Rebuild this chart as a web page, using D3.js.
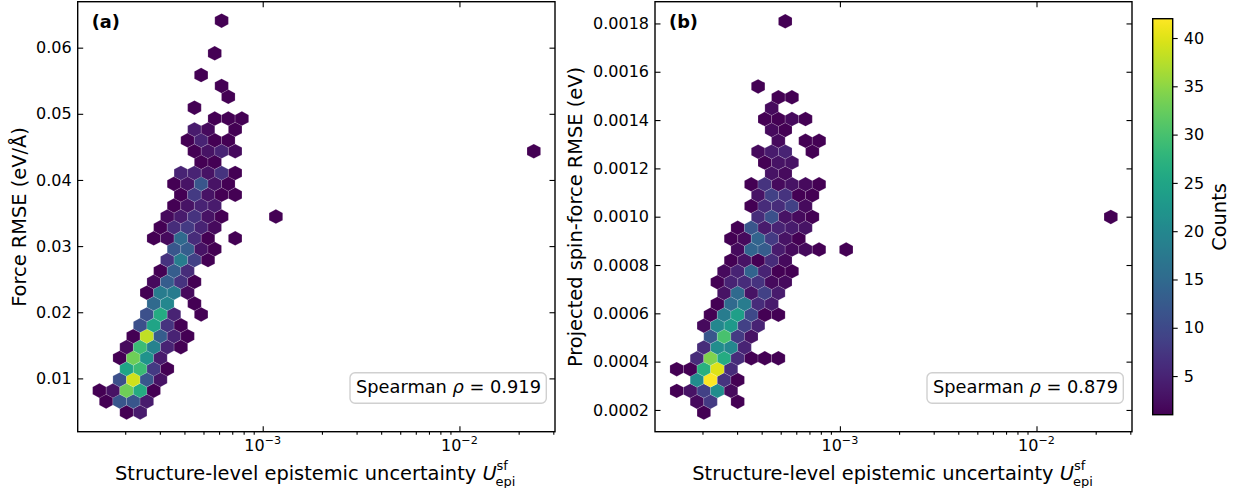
<!DOCTYPE html>
<html>
<head>
<meta charset="utf-8">
<script src="https://cdn.jsdelivr.net/npm/d3@7"></script>
<style>
body { margin: 0; background: #fff; }
svg { display: block; }
text { font-family: "DejaVu Sans", sans-serif; fill: #000; }
</style>
</head>
<body>
<svg id="chart" width="1236" height="488"></svg>
<script>
// hexbin cells, one entry per row of bins
// panel (a)
var forceRmse = [0.00486, 0.00651, 0.00815, 0.00980, 0.01144, 0.01309, 0.01473, 0.01638, 0.01802, 0.01967,
    0.02131, 0.02296, 0.02460, 0.02625, 0.02789, 0.02954, 0.03118, 0.03283, 0.03447, 0.03612,
    0.03776, 0.03941, 0.04105, 0.04270, 0.04434, 0.04599, 0.04763, 0.04928, 0.05092, 0.05257,
    0.05421, 0.05586, 0.05915, 0.06408];
var forceLogU = [
    [-3.692, -3.623],
    [-3.796, -3.727, -3.658, -3.589],
    [-3.830, -3.761, -3.692, -3.623, -3.554],
    [-3.727, -3.658, -3.589, -3.520],
    [-3.692, -3.623, -3.554, -3.485],
    [-3.727, -3.658, -3.589, -3.520],
    [-3.692, -3.623, -3.554, -3.485, -3.416],
    [-3.658, -3.589, -3.520, -3.451, -3.382],
    [-3.623, -3.554, -3.485, -3.416],
    [-3.589, -3.520, -3.451, -3.313],
    [-3.554, -3.485, -3.347],
    [-3.589, -3.520, -3.451, -3.382],
    [-3.554, -3.485, -3.416, -3.347],
    [-3.520, -3.451, -3.382],
    [-3.485, -3.416, -3.347, -3.278],
    [-3.451, -3.382, -3.313, -3.244],
    [-3.554, -3.485, -3.416, -3.347, -3.278, -3.140],
    [-3.520, -3.451, -3.382, -3.313, -3.244],
    [-3.485, -3.416, -3.347, -3.278, -3.209, -2.933],
    [-3.451, -3.382, -3.313, -3.244],
    [-3.416, -3.347, -3.278, -3.209, -3.140],
    [-3.451, -3.382, -3.313, -3.244, -3.175],
    [-3.416, -3.347, -3.278, -3.209, -3.140],
    [-3.313, -3.244],
    [-3.347, -3.278, -3.209, -3.140, -1.622],
    [-3.382, -3.313, -3.244, -3.175],
    [-3.347, -3.278, -3.140],
    [-3.244, -3.175, -3.106],
    [-3.347],
    [-3.175],
    [-3.209],
    [-3.313],
    [-3.244],
    [-3.209]
];
var forceCounts = [
    [1, 4],
    [1, 12, 12, 4],
    [1, 3, 33, 26, 1],
    [11, 39, 12, 3],
    [25, 29, 8, 1],
    [1, 33, 22, 4],
    [2, 29, 19, 5, 1],
    [1, 38, 13, 5, 1],
    [11, 25, 7, 1],
    [11, 26, 5, 1],
    [15, 20, 1],
    [1, 18, 18, 2],
    [2, 13, 7, 1],
    [1, 13, 6],
    [7, 18, 9, 1],
    [12, 13, 3, 1],
    [1, 2, 15, 6, 1, 1],
    [1, 6, 8, 5, 2],
    [2, 4, 7, 3, 1, 1],
    [1, 3, 5, 4],
    [1, 8, 3, 1, 1],
    [1, 3, 12, 3, 1],
    [5, 5, 3, 7, 1],
    [1, 1],
    [1, 3, 5, 2, 1],
    [1, 5, 1, 1],
    [4, 2, 1],
    [1, 1, 1],
    [1],
    [1],
    [1],
    [1],
    [1],
    [1]
];

// panel (b)
var spinRmse = [0.000189, 0.000234, 0.000279, 0.000324, 0.000369, 0.000414, 0.000459, 0.000504, 0.000549, 0.000594,
    0.000639, 0.000684, 0.000729, 0.000774, 0.000819, 0.000864, 0.000909, 0.000954, 0.000999, 0.001044,
    0.001089, 0.001134, 0.001179, 0.001224, 0.001269, 0.001314, 0.001359, 0.001404, 0.001449, 0.001494,
    0.001539, 0.001809];
var spinLogU = [
    [-3.692],
    [-3.727, -3.658, -3.520],
    [-3.830, -3.761, -3.692, -3.623, -3.554],
    [-3.727, -3.658, -3.589, -3.520],
    [-3.830, -3.761, -3.692, -3.623, -3.554],
    [-3.727, -3.658, -3.589, -3.520, -3.451, -3.382, -3.313],
    [-3.692, -3.623, -3.554, -3.485],
    [-3.658, -3.589, -3.520, -3.451],
    [-3.692, -3.623, -3.554, -3.485, -3.416],
    [-3.658, -3.589, -3.520, -3.451, -3.382, -3.313],
    [-3.623, -3.554, -3.485, -3.416, -3.347],
    [-3.589, -3.520, -3.451, -3.382, -3.313],
    [-3.623, -3.554, -3.485, -3.416, -3.347, -3.278],
    [-3.589, -3.520, -3.451, -3.382, -3.313, -3.244],
    [-3.554, -3.485, -3.416, -3.347, -3.278],
    [-3.520, -3.451, -3.382, -3.313, -3.244, -3.175, -3.106, -2.968],
    [-3.554, -3.485, -3.416, -3.347, -3.278, -3.209],
    [-3.520, -3.451, -3.382, -3.313, -3.244, -3.175],
    [-3.416, -3.347, -3.278, -3.209, -3.140, -1.622],
    [-3.451, -3.382, -3.313, -3.244, -3.175],
    [-3.416, -3.347, -3.278, -3.209, -3.140],
    [-3.451, -3.382, -3.313, -3.244, -3.175, -3.106],
    [-3.347, -3.278],
    [-3.382, -3.313, -3.244],
    [-3.416, -3.347, -3.278, -3.140],
    [-3.313, -3.175, -3.106],
    [-3.347, -3.278],
    [-3.382, -3.313, -3.244, -3.175],
    [-3.347],
    [-3.313, -3.244],
    [-3.416],
    [-3.278]
];
var spinCounts = [
    [1],
    [2, 8, 1],
    [1, 3, 9, 21, 2],
    [21, 42, 7, 1],
    [1, 1, 27, 40, 6],
    [6, 34, 26, 6, 1, 1, 1],
    [6, 21, 20, 5],
    [12, 30, 8, 3],
    [2, 20, 23, 9, 5],
    [1, 18, 24, 10, 1, 1],
    [1, 15, 18, 6, 4],
    [3, 15, 3, 9, 4],
    [1, 5, 6, 7, 2, 2],
    [2, 5, 14, 5, 1, 1],
    [1, 3, 1, 6, 2],
    [2, 14, 13, 4, 2, 2, 1, 1],
    [1, 2, 14, 8, 3, 1],
    [1, 12, 4, 5, 4, 3],
    [6, 11, 3, 2, 1, 1],
    [1, 6, 6, 9, 2],
    [3, 9, 7, 1, 1],
    [1, 7, 2, 3, 2, 1],
    [3, 2],
    [1, 3, 3],
    [2, 4, 5, 1],
    [2, 1, 1],
    [2, 1],
    [1, 1, 2, 1],
    [2],
    [1, 1],
    [1],
    [1]
];

var forceTicks = [0.01, 0.02, 0.03, 0.04, 0.05, 0.06];
var spinTicks = [0.0002, 0.0004, 0.0006, 0.0008, 0.0010, 0.0012, 0.0014, 0.0016, 0.0018];
var uMajor = [1e-3, 1e-2];
var uMinor = [2e-4, 3e-4, 4e-4, 5e-4, 6e-4, 7e-4, 8e-4, 9e-4, 2e-3, 3e-3, 4e-3, 5e-3, 6e-3, 7e-3, 8e-3, 9e-3, 2e-2, 3e-2];
var countTicks = [5, 10, 15, 20, 25, 30, 35, 40];

var svg = d3.select("#chart");
var top_ = 1.7, bottom_ = 431.7;
var tickFont = "16px", labelFont = "19.4px", noteFont = "17.8px";
var color = d3.scaleSequential(d3.interpolateViridis).domain([1, 42]);

// bin width in decades, as hexbin on a log axis gives it
var uBin = 0.069;

function panel(opts) {
    var g = svg.append("g");
    var x = d3.scaleLog().domain([1.147e-4, 3.06e-2]).range([opts.left, opts.right]);
    var y = d3.scaleLinear().domain(opts.yDomain).range([bottom_, top_]);

    // hexagon shape: matplotlib polygon, sx wide and 2*rowstep*2/3 tall
    var hw = (x(Math.pow(10, -3 + uBin)) - x(1e-3)) / 2;
    var rowStep = Math.abs(y(opts.rmse[1]) - y(opts.rmse[0]));
    var hex = [[hw, rowStep / 3], [hw, -rowStep / 3], [0, -rowStep * 2 / 3], [-hw, -rowStep / 3], [-hw, rowStep / 3], [0, rowStep * 2 / 3]];
    var hexPath = "M" + hex.join("L") + "Z";

    var cells = [];
    opts.rmse.forEach(function(r, i) {
        opts.logU[i].forEach(function(u, j) {
            cells.push({u: Math.pow(10, u), r: r, n: opts.counts[i][j]});
        });
    });

    g.selectAll("path.hex")
        .data(cells)
        .enter()
        .append("path")
        .attr("class", "hex")
        .attr("d", hexPath)
        .attr("transform", function(d) { return "translate(" + x(d.u) + "," + y(d.r) + ")"; })
        .attr("fill", function(d) { return color(d.n); })
        .attr("stroke", "#fff")
        .attr("stroke-opacity", 0.3)
        .attr("stroke-width", 0.5);

    // ticks
    var left = g.append("g").attr("transform", "translate(" + opts.left + ",0)")
        .call(d3.axisLeft(y).tickValues(opts.yTicks).tickSize(-5.5).tickPadding(6).tickFormat(opts.yFormat));
    var right = g.append("g").attr("transform", "translate(" + opts.right + ",0)")
        .call(d3.axisRight(y).tickValues(opts.yTicks).tickSize(-5.5).tickFormat(""));
    var top = g.append("g").attr("transform", "translate(0," + top_ + ")")
        .call(d3.axisTop(x).tickValues(uMajor).tickSize(-5.5).tickFormat(""));
    var bot = g.append("g").attr("transform", "translate(0," + bottom_ + ")")
        .call(d3.axisBottom(x).tickValues(uMajor).tickSize(-5.5).tickFormat(""));
    var minor = g.append("g").attr("transform", "translate(0," + bottom_ + ")")
        .call(d3.axisBottom(x).tickValues(uMinor).tickSize(3).tickFormat(""));

    [left, right, top, bot, minor].forEach(function(a) {
        a.select(".domain").remove();
        a.selectAll("line").attr("stroke", "#000").attr("stroke-width", 1.1);
    });
    left.selectAll("text").style("font-size", tickFont).style("font-family", '"DejaVu Sans"').attr("fill", "#000");

    // 10^-3 style labels
    uMajor.forEach(function(v) {
        var t = g.append("text").attr("x", x(v)).attr("y", 450.8).attr("text-anchor", "middle").style("font-size", tickFont);
        t.append("tspan").text("10");
        t.append("tspan").attr("dy", -6.6).style("font-size", "11.2px").text("\u2212" + Math.round(-Math.log10(v)));
    });

    // frame
    g.append("rect")
        .attr("x", opts.left).attr("y", top_)
        .attr("width", opts.right - opts.left).attr("height", bottom_ - top_)
        .attr("fill", "none").attr("stroke", "#000").attr("stroke-width", 1.4);

    // panel letter
    g.append("text").attr("x", opts.left + 14).attr("y", 28)
        .style("font-size", noteFont).style("font-weight", "bold").text(opts.letter);

    // spearman box
    g.append("rect")
        .attr("x", opts.right - 205).attr("y", 372.8)
        .attr("width", 196.3).attr("height", 30.5)
        .attr("rx", 5).attr("ry", 5)
        .attr("fill", "#fff").attr("stroke", "#d0d0d0").attr("stroke-width", 1.4);
    var st = g.append("text").attr("x", opts.right - 199).attr("y", 392.7).style("font-size", noteFont);
    st.append("tspan").text("Spearman ");
    st.append("tspan").style("font-style", "italic").text("\u03c1");
    st.append("tspan").text(" = " + opts.rho);

    // x label
    var xl = g.append("text").attr("x", opts.left + 37.3).attr("y", 480.3).style("font-size", labelFont);
    xl.append("tspan").text("Structure-level epistemic uncertainty ");
    xl.append("tspan").style("font-style", "italic").text("U");
    var sup = xl.append("tspan").attr("dy", -10.3).style("font-size", "13px").text("sf");
    var sub = g.append("text").attr("y", 485.5).style("font-size", "13px").text("epi");
    sub.attr("x", sup.node().getStartPositionOfChar(0).x - 1);

    // y label
    g.append("text")
        .attr("transform", "translate(" + (opts.left - opts.yLabelGap) + ",217) rotate(-90)")
        .attr("text-anchor", "middle")
        .style("font-size", labelFont)
        .text(opts.yLabel);
}

panel({
    left: 77.7, right: 555,
    yDomain: [0.00194, 0.06695],
    rmse: forceRmse, logU: forceLogU, counts: forceCounts,
    yTicks: forceTicks,
    yFormat: d3.format(".2f"),
    letter: "(a)", rho: "0.919",
    yLabel: "Force RMSE (eV/\u00c5)", yLabelGap: 51.7
});

panel({
    left: 655, right: 1132,
    yDomain: [0.00011, 0.00189],
    rmse: spinRmse, logU: spinLogU, counts: spinCounts,
    yTicks: spinTicks,
    yFormat: d3.format(".4f"),
    letter: "(b)", rho: "0.879",
    yLabel: "Projected spin-force RMSE (eV)", yLabelGap: 72.7
});

// colorbar
var cbLeft = 1152.7, cbRight = 1172.7, cbTop = 18.7, cbBottom = 414.7;
var cy = d3.scaleLinear().domain([1, 42]).range([cbBottom, cbTop]);
var grad = svg.append("defs").append("linearGradient")
    .attr("id", "viridis").attr("x1", 0).attr("x2", 0).attr("y1", 1).attr("y2", 0);
grad.selectAll("stop")
    .data(d3.range(0, 1.0001, 0.02))
    .enter()
    .append("stop")
    .attr("offset", function(d) { return d; })
    .attr("stop-color", function(d) { return d3.interpolateViridis(d); });
var cb = svg.append("g");
cb.append("rect")
    .attr("x", cbLeft).attr("y", cbTop)
    .attr("width", cbRight - cbLeft).attr("height", cbBottom - cbTop)
    .attr("fill", "url(#viridis)").attr("stroke", "#000").attr("stroke-width", 1.4);
var cAxis = cb.append("g").attr("transform", "translate(" + cbRight + ",0)")
    .call(d3.axisRight(cy).tickValues(countTicks).tickSize(5).tickPadding(6).tickFormat(d3.format("d")));
cAxis.select(".domain").remove();
cAxis.selectAll("line").attr("stroke", "#000").attr("stroke-width", 1.1);
cAxis.selectAll("text").style("font-size", tickFont).style("font-family", '"DejaVu Sans"').attr("fill", "#000");
cb.append("text")
    .attr("transform", "translate(1226,217) rotate(-90)")
    .attr("text-anchor", "middle")
    .style("font-size", labelFont)
    .text("Counts");
</script>
</body>
</html>
